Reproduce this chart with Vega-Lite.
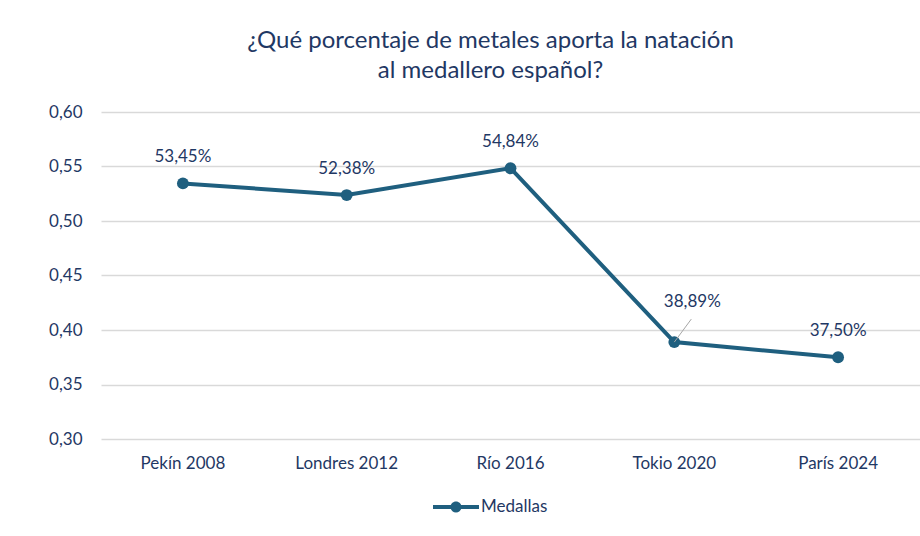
{
  "$schema": "https://vega.github.io/schema/vega-lite/v6.json",
  "width": 819,
  "height": 327,
  "autosize": {"type": "none"},
  "padding": {"left": 101, "top": 112, "right": 0, "bottom": 97},
  "background": "white",
  "title": {
    "text": ["¿Qué porcentaje de metales aporta la natación", "al medallero español?"],
    "anchor": "middle",
    "dx": -20,
    "offset": 20,
    "font": "Lato",
    "fontSize": 24,
    "fontWeight": "normal",
    "color": "#1f3864",
    "lineHeight": 30
  },
  "data": {
    "values": [
      {"juegos": "Pekín 2008", "valor": 0.5345, "serie": "Medallas"},
      {"juegos": "Londres 2012", "valor": 0.5238, "serie": "Medallas"},
      {"juegos": "Río 2016", "valor": 0.5484, "serie": "Medallas"},
      {"juegos": "Tokio 2020", "valor": 0.3889, "serie": "Medallas"},
      {"juegos": "París 2024", "valor": 0.375, "serie": "Medallas"}
    ]
  },
  "encoding": {
    "x": {
      "field": "juegos",
      "type": "nominal",
      "sort": null,
      "title": null,
      "scale": {"paddingInner": 0, "paddingOuter": 0},
      "axis": {"labelAngle": 0, "ticks": false, "domain": false, "labelPadding": 16, "grid": false}
    },
    "y": {
      "field": "valor",
      "type": "quantitative",
      "title": null,
      "scale": {"domain": [0.3, 0.6], "nice": false, "zero": false},
      "axis": {"values": [0.3, 0.35, 0.4, 0.45, 0.5, 0.55, 0.6], "format": ".2f", "ticks": false, "domain": false, "labelPadding": 19, "gridColor": "#d9d9d9", "gridWidth": 1.5}
    }
  },
  "layer": [
    {
      "mark": {"type": "line", "color": "#1f5f7f", "strokeWidth": 4},
      "encoding": {}
    },
    {
      "mark": {"type": "point", "filled": true, "size": 140, "opacity": 1},
      "encoding": {
        "color": {
          "field": "serie",
          "type": "nominal",
          "scale": {"range": ["#1f5f7f"]},
          "legend": {
            "title": null,
            "orient": "none",
            "legendX": 332,
            "legendY": 372,
            "symbolType": "M-1,-0.09H1V0.09H-1Z M-0.24,0 A0.24,0.24 0 1,1 0.24,0 A0.24,0.24 0 1,1 -0.24,0Z",
            "symbolSize": 2116,
            "symbolStrokeWidth": 0,
            "labelFont": "Lato",
            "labelFontSize": 17,
            "labelColor": "#1f3864",
            "labelOffset": 2
          }
        }
      }
    },
    {
      "transform": [{"filter": "datum.juegos !== 'Tokio 2020'"}],
      "mark": {"type": "text", "dy": -26, "font": "Lato", "fontSize": 17, "color": "#1f3864"},
      "encoding": {"text": {"field": "valor", "type": "quantitative", "format": ".2%"}}
    },
    {
      "transform": [{"filter": "datum.juegos === 'Tokio 2020'"}],
      "mark": {"type": "text", "dy": -40, "dx": 18, "font": "Lato", "fontSize": 17, "color": "#1f3864"},
      "encoding": {"text": {"field": "valor", "type": "quantitative", "format": ".2%"}}
    },
    {
      "transform": [{"filter": "datum.juegos === 'Tokio 2020'"}],
      "mark": {"type": "rule", "color": "#a6a6a6", "strokeWidth": 1, "x2Offset": 17, "y2Offset": -23},
      "encoding": {"x2": {"field": "juegos"}, "y2": {"field": "valor"}}
    }
  ],
  "config": {
    "locale": {"number": {"decimal": ",", "thousands": ".", "grouping": [3], "currency": ["", " €"]}},
    "axis": {"labelFont": "Lato", "labelFontSize": 17, "labelColor": "#1f3864"},
    "view": {"stroke": null}
  }
}
